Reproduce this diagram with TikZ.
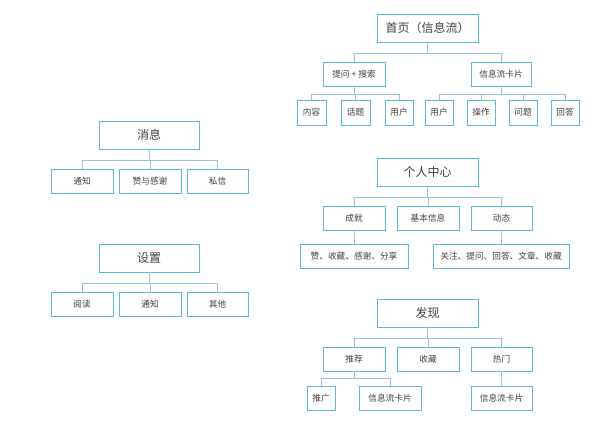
\documentclass[tikz,border=0pt]{standalone}
\usepackage{fontspec}
\newfontfamily\cjk{Noto Sans CJK SC}
\begin{document}
\begin{tikzpicture}[x=0.75pt,y=-0.75pt,
  box/.style={draw=boxc,line width=0.6pt,fill=white,inner sep=0pt,font=\cjk\fontsize{6.5}{7}\selectfont,text=black!75},
  big/.style={box,font=\cjk\fontsize{9}{10}\selectfont},
  ln/.style={draw=linec,line width=0.6pt}]
\definecolor{boxc}{HTML}{5BB8D8}
\definecolor{linec}{HTML}{9CC3D5}
\useasboundingbox (0,0) rectangle (600,422);
\newcommand{\bx}[7]{\node[#1,minimum width=#4*0.75pt-#2*0.75pt,minimum height=#5*0.75pt-#3*0.75pt] (#6) at ({(#2+#4)/2},{(#3+#5)/2}) {#7};}
\newcommand{\bus}[3]{\draw[ln] (#1.south) -- (#1.south|-0,#2) -| (#3.north);}
% home
\bx{big}{377}{14}{478}{42}{home}{首页（信息流）}
\bx{box}{323}{62}{385}{86}{ask}{提问 + 搜索}
\bx{box}{471}{62}{531}{86}{card}{信息流卡片}
\bx{box}{297}{100}{326}{125}{a1}{内容}
\bx{box}{341}{100}{370}{125}{a2}{话题}
\bx{box}{385}{100}{413}{125}{a3}{用户}
\bx{box}{425}{100}{453}{125}{c1}{用户}
\bx{box}{467}{100}{495}{125}{c2}{操作}
\bx{box}{509}{100}{537}{125}{c3}{问题}
\bx{box}{551}{100}{579}{125}{c4}{回答}
\foreach \c in {ask,card} \bus{home}{53}{\c}
\foreach \c in {a1,a2,a3} \bus{ask}{94}{\c}
\foreach \c in {c1,c2,c3,c4} \bus{card}{94}{\c}
% messages
\bx{big}{99}{121}{199}{149}{msg}{消息}
\bx{box}{51}{169}{113}{193}{m1}{通知}
\bx{box}{119}{169}{181}{193}{m2}{赞与感谢}
\bx{box}{187}{169}{248}{193}{m3}{私信}
\foreach \c in {m1,m2,m3} \bus{msg}{160}{\c}
% settings
\bx{big}{99}{244}{199}{272}{set}{设置}
\bx{box}{51}{292}{113}{316}{s1}{阅读}
\bx{box}{119}{292}{181}{316}{s2}{通知}
\bx{box}{187}{292}{248}{316}{s3}{其他}
\foreach \c in {s1,s2,s3} \bus{set}{283}{\c}
% personal
\bx{big}{377}{158}{478}{186}{me}{个人中心}
\bx{box}{323}{206}{385}{230}{p1}{成就}
\bx{box}{397}{206}{459}{230}{p2}{基本信息}
\bx{box}{471}{206}{532}{230}{p3}{动态}
\bx{box}{300}{244}{408}{268}{q1}{赞、收藏、感谢、分享}
\bx{box}{433}{244}{569}{268}{q2}{关注、提问、回答、文章、收藏}
\foreach \c in {p1,p2,p3} \bus{me}{197}{\c}
\draw[ln] (p1.south) -- (q1.north);
\draw[ln] (p3.south) -- (q2.north-|p3.south);
% discover
\bx{big}{377}{299}{478}{327}{disc}{发现}
\bx{box}{323}{347}{385}{371}{d1}{推荐}
\bx{box}{397}{347}{459}{371}{d2}{收藏}
\bx{box}{471}{347}{532}{371}{d3}{热门}
\bx{box}{307}{386}{335}{410}{e1}{推广}
\bx{box}{359}{386}{421}{410}{e2}{信息流卡片}
\bx{box}{471}{386}{532}{410}{e3}{信息流卡片}
\foreach \c in {d1,d2,d3} \bus{disc}{338}{\c}
\foreach \c in {e1,e2} \bus{d1}{378}{\c}
\draw[ln] (d3.south) -- (e3.north);
\end{tikzpicture}
\end{document}
